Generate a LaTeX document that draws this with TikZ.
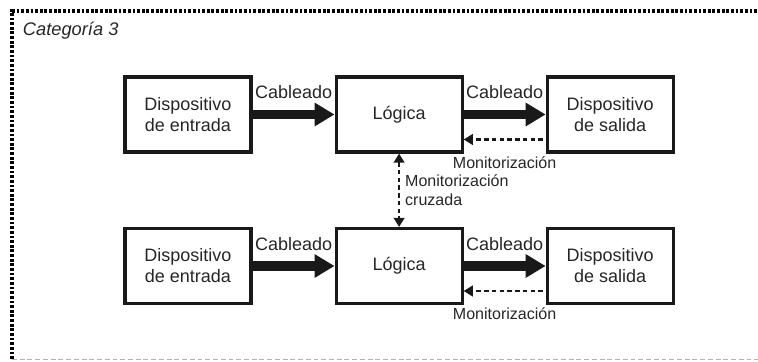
\documentclass[tikz,border=0pt]{standalone}
\usepackage{fontspec}
\setmainfont{Liberation Sans}
\usetikzlibrary{positioning,arrows.meta}

\begin{document}
\begin{tikzpicture}[
        font=\fontsize{12.8}{15}\selectfont,
        >={Triangle[length=6.5pt,width=7.5pt]},
        bloque/.style={draw=black!90, line width=2.2pt, minimum width=3.15cm, minimum height=1.875cm, align=center, inner sep=0pt, text=black!85},
        cable/.style={black!90, line width=6.6pt, -{Triangle[length=0.5cm,width=0.56cm]}},
        monitor/.style={black!90, line width=2pt, dash pattern=on 3.2pt off 2.3pt},
        etiqueta/.style={font=\fontsize{11.4}{13.5}\selectfont, text=black!85}
    ]
        \useasboundingbox (0,0) rectangle (18.95,9.025);

        % Marco de la categoria
        \draw[line width=2.2pt, dash pattern=on 2pt off 1.3pt] (0.3,0.05) -- (0.3,8.75) -- (18.95,8.75);
        \draw[black!30, line width=0.7pt, dash pattern=on 3.5pt off 2pt] (0.3,0.05) -- (18.95,0.05);
        \node[anchor=west, text=black!85, font=\itshape\fontsize{13}{15}\selectfont] (titulo) at (0.45,8.25) {Categoría 3};

        % Canal superior
        \node[bloque] (ent1) at (4.7,6.1625) {Dispositivo\\de entrada};
        \node[bloque, right=2.05cm of ent1] (log1) {Lógica};
        \node[bloque, right=2.05cm of log1] (sal1) {Dispositivo\\de salida};

        % Canal inferior
        \node[bloque] (ent2) at (4.7,2.375) {Dispositivo\\de entrada};
        \node[bloque, right=2.05cm of ent2] (log2) {Lógica};
        \node[bloque, right=2.05cm of log2] (sal2) {Dispositivo\\de salida};

        % Cableado
        \draw[cable] (ent1) -- node[midway, anchor=base, yshift=0.4cm, text=black!85] (cab1) {Cableado} (log1);
        \draw[cable] (log1) -- node[midway, anchor=base, yshift=0.4cm, text=black!85] (cab2) {Cableado} (sal1);
        \draw[cable] (ent2) -- node[midway, anchor=base, yshift=0.4cm, text=black!85] (cab3) {Cableado} (log2);
        \draw[cable] (log2) -- node[midway, anchor=base, yshift=0.4cm, text=black!85] (cab4) {Cableado} (sal2);

        % Monitorizacion de las salidas
        \draw[monitor, ->, shorten <=2pt] ([yshift=-0.625cm]sal1.west) -- node[midway, anchor=base, yshift=-0.72cm, etiqueta] (mon1) {Monitorización} ([yshift=-0.625cm]log1.east);
        \draw[monitor, ->, shorten <=2pt] ([yshift=-0.625cm]sal2.west) -- node[midway, anchor=base, yshift=-0.72cm, etiqueta] (mon2) {Monitorización} ([yshift=-0.625cm]log2.east);

        % Monitorizacion cruzada
        \draw[monitor, <->] (log1) -- node[midway, right, align=left, etiqueta] (cruz) {Monitorización\\cruzada} (log2);
    \end{tikzpicture}
\end{document}
